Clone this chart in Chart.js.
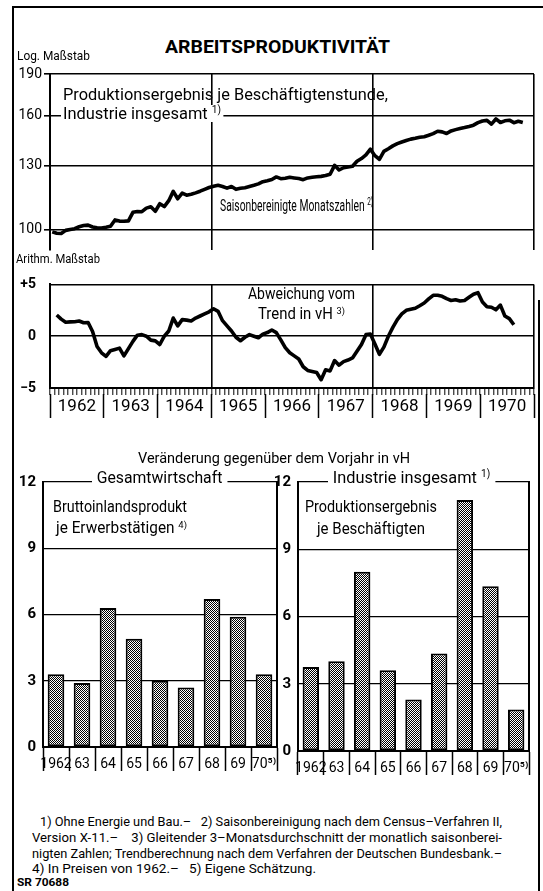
<!DOCTYPE html>
<html><head><meta charset="utf-8">
<script src="https://cdn.jsdelivr.net/npm/chart.js@4.4.1/dist/chart.umd.min.js"></script>
<style>
html,body{margin:0;padding:0;background:#fff;}
body{width:543px;height:891px;position:relative;overflow:hidden;color:#000;font-family:Roboto,"Liberation Sans",sans-serif;}
.t{position:absolute;white-space:nowrap;line-height:1;transform-origin:0 0;}
.w{background:#fff;}
canvas{position:absolute;}
#frame{position:absolute;left:12px;top:6px;width:620px;height:900px;border-left:2px solid #000;border-top:2px solid #000;}
#rframe{position:absolute;left:538px;top:300px;width:0;height:600px;border-left:2px solid #000;}
sup{font-size:0.62em;vertical-align:0.55em;line-height:0;}
</style></head>
<body>
<div id="frame"></div><div id="rframe"></div>
<canvas id="c1" width="543" height="200" style="left:0;top:60px"></canvas>
<canvas id="c2" width="543" height="165" style="left:0;top:262px"></canvas>
<canvas id="c3" width="285" height="320" style="left:0;top:466px"></canvas>
<canvas id="c4" width="278" height="320" style="left:265px;top:466px"></canvas>

<div class="t" data-w="225" style="left:165px;top:38px;font-size:18px;font-weight:bold">ARBEITSPRODUKTIVITÄT</div>
<div class="t" data-w="73" style="left:17px;top:49px;font-size:13px">Log. Maßstab</div>
<div class="t" data-w="325" style="left:63px;top:86px;font-size:17px">Produktionsergebnis je Beschäftigtenstunde,</div>
<div class="t w" data-w="162" style="left:61px;top:105px;font-size:17px;padding:0 2px">Industrie insgesamt <sup>1)</sup></div>
<div class="t" data-w="153" style="left:220px;top:197px;font-size:17px">Saisonbereinigte Monatszahlen <sup>2)</sup></div>
<div class="t" data-w="84" style="left:16px;top:252px;font-size:13px">Arithm. Maßstab</div>
<div class="t" data-w="107" style="left:248px;top:286px;font-size:16px">Abweichung vom</div>
<div class="t" data-w="87" style="left:258px;top:306px;font-size:16px">Trend in vH <sup>3)</sup></div>
<div class="t" data-w="272" style="left:138px;top:451px;font-size:15px">Veränderung gegenüber dem Vorjahr in vH</div>
<div class="t w" data-w="135" style="left:92px;top:469px;font-size:17px;padding:0 5px">Gesamtwirtschaft</div>
<div class="t w" data-w="167" style="left:328px;top:469px;font-size:17px;padding:0 5px">Industrie insgesamt <sup>1)</sup></div>
<div class="t" data-w="134" style="left:53px;top:499px;font-size:16px">Bruttoinlandsprodukt</div>
<div class="t" data-w="131" style="left:56px;top:520px;font-size:16px">je Erwerbstätigen <sup>4)</sup></div>
<div class="t" data-w="132" style="left:305px;top:499px;font-size:16px">Produktionsergebnis</div>
<div class="t" data-w="108" style="left:317px;top:521px;font-size:16px">je Beschäftigten</div>

<div class="t" data-w="462" style="left:40px;top:815px;font-size:13.5px">1) Ohne Energie und Bau.–&nbsp;&nbsp; 2) Saisonbereinigung nach dem Census–Verfahren II,</div>
<div class="t" data-w="470" style="left:32px;top:831px;font-size:13.5px">Version X-11.–&nbsp;&nbsp;&nbsp; 3) Gleitender 3–Monatsdurchschnitt der monatlich saisonberei-</div>
<div class="t" data-w="470" style="left:32px;top:847px;font-size:13.5px">nigten Zahlen; Trendberechnung nach dem Verfahren der Deutschen Bundesbank.–</div>
<div class="t" data-w="284" style="left:32px;top:862px;font-size:13.5px">4) In Preisen von 1962.–&nbsp;&nbsp; 5) Eigene Schätzung.</div>
<div class="t" data-w="52" style="left:17px;top:877px;font-size:11px;font-weight:bold">SR 70688</div>

<script>
// ---------- DATA ----------
// Top panel: monthly, seasonally adjusted output per man-hour (log scale), Jan 1962 .. Oct 1970
const topValues = [
  99.0, 98.4, 98.3, 99.6,100.0,100.3,101.1,101.6,101.8,101.0,100.7,100.6, // 1962
 100.9,101.3,104.0,103.5,103.4,103.6,107.3,107.7,107.6,109.2,109.8,107.8, // 1963
 111.2,109.9,112.6,117.0,113.5,116.2,115.2,115.6,116.3,117.1,118.0,118.9, // 1964
 119.5,120.0,119.4,118.6,119.4,118.0,118.5,118.8,119.4,120.0,120.7,121.8, // 1965
 122.3,122.9,124.2,123.3,123.5,124.0,123.7,123.4,122.8,123.7,124.0,124.3, // 1966
 124.5,124.9,125.6,130.3,127.8,129.0,129.4,129.8,132.5,134.0,136.0,139.3, // 1967
 135.6,133.6,138.0,139.5,141.2,142.5,143.5,144.4,145.2,145.7,146.3,146.6, // 1968
 147.5,148.5,150.0,149.6,148.6,150.2,151.0,151.7,152.3,153.0,153.8,155.4, // 1969
 156.5,156.9,154.5,157.8,155.5,156.6,157.0,155.4,156.3,155.5              // 1970
];
const topTicks = [100, 130, 160, 190];

// Middle panel: deviation from trend in %, monthly from Feb 1962 (3-month moving average)
const devStart = 1;
const devValues = [
       2.05, 1.65, 1.35, 1.38, 1.40, 1.47, 1.30, 1.32, 0.45,-1.00,-1.60, // 1962 (Feb-Dec)
 -1.95,-1.40,-1.28,-1.15,-1.90,-1.20,-0.50, 0.10, 0.15, 0.00,-0.38,-0.45, // 1963
 -0.80, 0.00, 0.50, 1.75, 1.00, 1.60, 1.55, 1.47, 1.75, 1.95, 2.15, 2.35, // 1964
  2.65, 2.40, 1.50, 1.00, 0.50,-0.10,-0.44,-0.10, 0.15, 0.00,-0.15, 0.20, // 1965
  0.35, 0.60, 0.35,-0.35,-1.10,-1.60,-1.90,-2.20,-2.95,-3.30,-3.40,-3.50, // 1966
 -4.20,-3.25,-3.35,-2.35,-2.80,-2.45,-2.30,-2.10,-1.45,-0.80, 0.15, 0.20, // 1967
 -0.75,-1.75,-1.05, 0.00, 0.85, 1.60, 2.15, 2.50, 2.60, 2.70, 2.94, 3.20, // 1968
  3.60, 3.95, 3.95, 3.85, 3.62, 3.45, 3.52, 3.40, 3.45, 3.75, 4.05, 4.20, // 1969
  3.30, 2.85, 2.80, 2.55, 3.00, 1.95, 1.70, 1.10                          // 1970
];
const devTicks = [-5, 0, 5];
const devTickLabels = ['\u22125', '0', '+5'];

const yearLabels = ['1962','1963','1964','1965','1966','1967','1968','1969','1970'];
const yearBoundaries = [0, 36, 72, 108]; // month indices of drawn vertical lines

// Bottom panels: change on previous year in %
const barYears = ['1962','63','64','65','66','67','68','69','70\u2075\u207E'];
const gesamtValues    = [3.3, 2.9, 6.3, 4.9, 3.0, 2.7, 6.7, 5.9, 3.3];
const industrieValues = [3.75, 4.0, 8.0, 3.6, 2.3, 4.35, 11.2, 7.35, 1.85];
const barTicks = [0, 3, 6, 9, 12];

// ---------- TEXT FITTING ----------
function fitTexts(){
  document.querySelectorAll('[data-w]').forEach(el=>{
    el.style.transform='none';
    const w = el.getBoundingClientRect().width;
    const target = parseFloat(el.dataset.w);
    if (w>0) el.style.transform='scaleX('+(target/w).toFixed(4)+')';
  });
}
fitTexts();

const FAM = 'Roboto, "Liberation Sans", sans-serif';
Chart.defaults.font.family = FAM;
Chart.defaults.color = '#000';

const BLACK = '#000';
const NONE = 'rgba(0,0,0,0)';
const base = {responsive:false, animation:false, devicePixelRatio:1,
  plugins:{legend:{display:false}, tooltip:{enabled:false}}};

// ---------- TOP CHART ----------
const topPts = topValues.map((v,i)=>({x:i+0.5, y:v}));
new Chart(document.getElementById('c1'), {
  type:'line',
  data:{datasets:[{data:topPts, borderColor:BLACK, borderWidth:3.6, pointRadius:0, tension:0, borderJoinStyle:'round'}]},
  options:Object.assign({}, base, {
    layout:{padding:{top:14, right:9, bottom:10, left:0}},
    scales:{
      x:{type:'linear', min:0, max:108,
         afterBuildTicks:a=>{a.ticks=yearBoundaries.map(v=>({value:v}));},
         grid:{color:BLACK, lineWidth:1.6, drawTicks:false},
         ticks:{display:false}, border:{display:false},
         afterFit:s=>{s.height=0;}},
      y:{type:'logarithmic', min:92, max:190,
         afterBuildTicks:a=>{a.ticks=topTicks.map(v=>({value:v}));},
         grid:{color:BLACK, lineWidth:1.6, tickLength:6},
         ticks:{callback:v=>String(v), font:{size:14}, color:BLACK, padding:2},
         border:{display:true, color:BLACK, width:2},
         afterFit:s=>{s.width=50;}}
    }
  })
});

// ---------- MIDDLE CHART ----------
const devPts = devValues.map((v,i)=>({x:devStart+i+0.5, y:v}));
const monthTicks = Array.from({length:109},(_,i)=>i);
const halfYearTicks = Array.from({length:19},(_,i)=>i*6);
new Chart(document.getElementById('c2'), {
  type:'line',
  data:{datasets:[{data:devPts, borderColor:BLACK, borderWidth:3.6, pointRadius:0, tension:0, borderJoinStyle:'round'}]},
  options:Object.assign({}, base, {
    layout:{padding:{top:13, right:9, bottom:3, left:0}},
    scales:{
      x:{type:'linear', min:0, max:108, weight:0,
         afterBuildTicks:a=>{a.ticks=monthTicks.map(v=>({value:v}));},
         grid:{color:c=>(c.tick && yearBoundaries.includes(c.tick.value))?BLACK:NONE,
               lineWidth:1.6, tickColor:BLACK, tickWidth:1, tickLength:7},
         ticks:{display:false, autoSkip:false},
         border:{display:true, color:BLACK, width:2},
         afterFit:s=>{s.height=6;}},
      xYear:{type:'linear', position:'bottom', min:0, max:108, weight:1,
         afterBuildTicks:a=>{a.ticks=halfYearTicks.map(v=>({value:v}));},
         grid:{drawOnChartArea:false, tickLength:24, tickWidth:1.5,
               tickColor:c=>(c.tick && c.tick.value%12===0)?BLACK:NONE, color:NONE},
         ticks:{autoSkip:false, maxRotation:0, padding:-21, font:{size:17}, color:BLACK,
                callback:(v,i)=> (i%2===1)? yearLabels[(i-1)/2] : ''},
         border:{display:false},
         afterFit:s=>{s.height=30;}},
      y:{min:-5, max:5,
         afterBuildTicks:a=>{a.ticks=devTicks.map(v=>({value:v}));},
         grid:{color:BLACK, lineWidth:1.6, drawTicks:false},
         ticks:{callback:(v,i)=>devTickLabels[i], font:{size:14, weight:'bold'}, color:BLACK, padding:14},
         border:{display:true, color:BLACK, width:2},
         afterFit:s=>{s.width=50;}}
    }
  })
});

// ---------- BAR CHARTS ----------
function makePattern(){
  const c=document.createElement('canvas'); c.width=2; c.height=2;
  const g=c.getContext('2d');
  g.fillStyle='#fff'; g.fillRect(0,0,2,2);
  g.fillStyle='#000';
  g.fillRect(0,0,1,1); g.fillRect(1,1,1,1);
  return g.createPattern(c,'repeat');
}
const pattern = makePattern();

function barChart(id, values, o){
  return new Chart(document.getElementById(id), {
    type:'bar',
    data:{labels:barYears, datasets:[{data:values, backgroundColor:pattern, borderColor:BLACK,
      borderWidth:2, borderSkipped:false, barPercentage:0.64, categoryPercentage:1}]},
    options:Object.assign({}, base, {
      layout:{padding:{top:o.pt, right:o.pr, bottom:o.pb, left:0}},
      scales:{
        x:{grid:{drawOnChartArea:false, offset:true, tickLength:24, tickColor:BLACK, tickWidth:1.5, color:BLACK},
           border:{display:true, color:BLACK, width:2},
           ticks:{autoSkip:false, maxRotation:0, padding:-15, font:{size:14}, color:BLACK},
           afterFit:s=>{s.height=28;}},
        y:{min:0, max:12,
           afterBuildTicks:a=>{a.ticks=barTicks.map(v=>({value:v}));},
           grid:{color:BLACK, lineWidth:1.3, drawTicks:false},
           border:{display:true, color:BLACK, width:2},
           ticks:{padding:7, font:{size:15, weight:'bold'}, color:BLACK},
           afterFit:s=>{s.width=o.yw;}},
        y2:{position:'right', min:0, max:12, display:true,
           ticks:{display:false}, grid:{drawOnChartArea:false, drawTicks:false},
           border:{display:true, color:BLACK, width:2},
           afterFit:s=>{s.width=0;}}
      }
    })
  });
}
barChart('c3', gesamtValues, {pt:11, pr:8, pb:11, yw:43});
barChart('c4', industrieValues, {pt:12, pr:14, pb:7, yw:33});
</script>
</body></html>
